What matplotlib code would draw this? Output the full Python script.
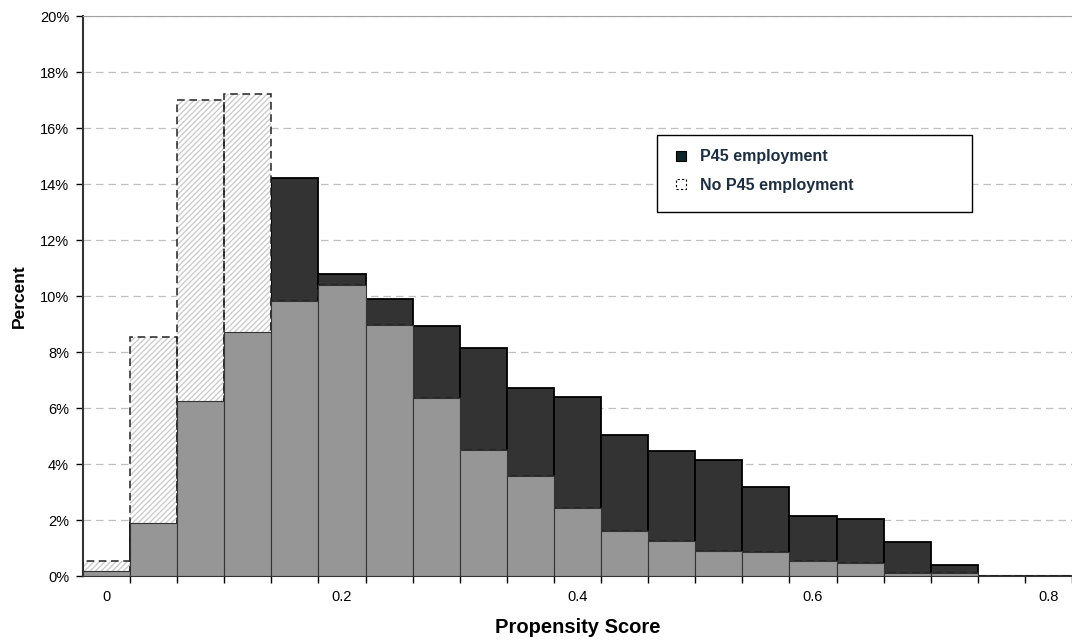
import numpy as np
import matplotlib
matplotlib.use("Agg")
import matplotlib.pyplot as plt
from matplotlib.patches import Patch, Rectangle
from matplotlib.ticker import PercentFormatter

plt.rcParams['font.family'] = ['Liberation Sans', 'DejaVu Sans']

# bin centres of the propensity score histogram (width 0.04)
bin_centers = [0.00, 0.04, 0.08, 0.12, 0.16, 0.20, 0.24, 0.28, 0.32, 0.36, 0.40,
               0.44, 0.48, 0.52, 0.56, 0.60, 0.64, 0.68, 0.72, 0.76, 0.80]
# percent of each group per bin
p45 = [0.19, 1.88, 6.26, 8.73, 14.2, 10.79, 9.9, 8.94, 8.15, 6.73, 6.38,
       5.04, 4.48, 4.13, 3.18, 2.13, 2.02, 1.2, 0.4, 0.0, 0.0]
no_p45 = [0.55, 8.52, 17.0, 17.2, 9.83, 10.39, 8.96, 6.36, 4.5, 3.57, 2.42,
          1.61, 1.25, 0.88, 0.85, 0.52, 0.45, 0.12, 0.1, 0.0, 0.0]
x_labels = ['0', '0.2', '0.4', '0.6', '0.8']
x_label_pos = [0.0, 0.2, 0.4, 0.6, 0.8]

width = 0.04
x = np.array(bin_centers)
overlap = np.minimum(p45, no_p45)

fig = plt.figure(figsize=(10.72, 6.41), dpi=100)
ax = fig.add_axes([0.0774, 0.1014, 0.9226, 0.8736])

# P45 employment (dark)
ax.bar(x, p45, width=width, color='#333333', edgecolor='black', linewidth=1.3, zorder=2)
# No P45 employment (hatched, dashed outline)
ax.bar(x, no_p45, width=width, color='white', edgecolor='#cccccc', hatch='//////',
       linewidth=0, zorder=2)
ax.bar(x, no_p45, width=width, fill=False, edgecolor='#222222', linewidth=1.1,
       linestyle=(0, (5, 3)), zorder=3)
# overlap of the two groups (grey)
ax.bar(x, overlap, width=width, color='#969696', edgecolor='#333333', linewidth=0.8, zorder=4)

ax.set_xlim(-0.02, 0.82)
ax.set_ylim(0, 20)
ax.yaxis.set_major_locator(plt.MultipleLocator(2))
ax.yaxis.set_major_formatter(PercentFormatter(decimals=0))
ax.grid(axis='y', color='#c0c0c0', linestyle=(0, (6, 4)), linewidth=0.9, zorder=0)
ax.set_axisbelow(True)

# ticks at bin edges, labels at bin centres
ax.set_xticks(np.arange(-0.02, 0.80, 0.04) + 0.04)
ax.set_xticks(x_label_pos, minor=True)
ax.set_xticklabels([], minor=False)
ax.set_xticklabels(x_labels, minor=True)
ax.tick_params(axis='x', which='major', direction='out', length=5, width=1, color='black')
ax.tick_params(axis='x', which='minor', length=0, pad=10, labelsize=10.5)
ax.tick_params(axis='y', direction='out', length=5, width=1, pad=5, labelsize=10.5)

ax.spines['left'].set_color('#333333')
ax.spines['left'].set_linewidth(1.5)
ax.spines['bottom'].set_color('#333333')
ax.spines['bottom'].set_linewidth(1.5)
ax.spines['top'].set_color('#a0a0a0')
ax.spines['right'].set_visible(False)

ax.set_xlabel('Propensity Score', fontsize=14.5, fontweight='bold', labelpad=10)
ax.set_ylabel('Percent', fontsize=12.5, fontweight='bold', labelpad=9)

# legend box drawn by hand so it can have the wide frame of the original
ax.add_patch(Rectangle((0.5804, 0.65), 0.3185, 0.1375, transform=ax.transAxes,
                       facecolor='white', edgecolor='black', linewidth=1.0, zorder=6))
handles = [Patch(facecolor='#0d2626', edgecolor='black', linewidth=0.8),
           Patch(facecolor='white', edgecolor='black', linewidth=0.8, linestyle=(0, (2, 2)))]
leg = ax.legend(handles, ['P45 employment', 'No P45 employment'],
                loc='upper left', bbox_to_anchor=(0.600, 0.762),
                frameon=False, handlelength=0.6, handleheight=0.6, handletextpad=0.9,
                labelspacing=0.85, borderpad=0, borderaxespad=0,
                prop={'size': 11.5, 'weight': 'bold'})
leg.set_zorder(7)
for t in leg.get_texts():
    t.set_color('#1c2e40')

fig.savefig('out.png', dpi=100)
